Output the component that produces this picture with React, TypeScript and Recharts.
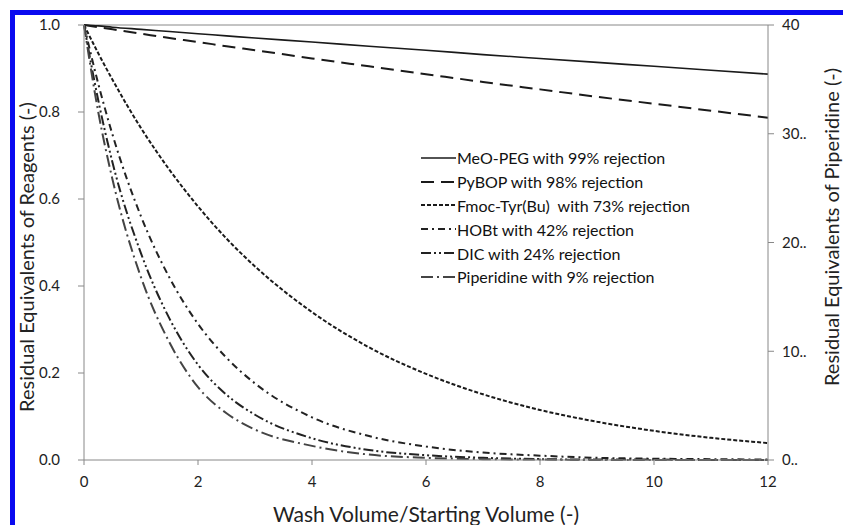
import React from "react";
import { LineChart, Line, XAxis, YAxis, ReferenceLine } from "recharts";

const washVolume = [0, 0.25, 0.5, 1, 1.5, 2, 2.5, 3, 4, 5, 6, 7, 8, 9, 10, 11, 12];

// residual equivalents of reagents (left axis)
const meoPeg = [1, 0.998, 0.995, 0.99, 0.985, 0.98, 0.975, 0.97, 0.961, 0.951, 0.942, 0.932, 0.923, 0.914, 0.905, 0.896, 0.887];
const pybop = [1, 0.995, 0.99, 0.98, 0.97, 0.961, 0.951, 0.942, 0.923, 0.905, 0.887, 0.869, 0.852, 0.835, 0.819, 0.803, 0.787];
const fmocTyr = [1, 0.935, 0.874, 0.763, 0.667, 0.583, 0.509, 0.445, 0.34, 0.259, 0.198, 0.151, 0.115, 0.088, 0.067, 0.051, 0.039];
const hobt = [1, 0.865, 0.748, 0.56, 0.419, 0.313, 0.235, 0.176, 0.098, 0.055, 0.031, 0.017, 0.01, 0.005, 0.003, 0.002, 0.001];
const dic = [1, 0.827, 0.684, 0.475, 0.325, 0.219, 0.15, 0.104, 0.05, 0.023, 0.011, 0.005, 0.002, 0.001, 0.001, 0, 0];
// residual equivalents of piperidine (right axis)
const piperidine = [40, 32, 25.8, 16.8, 10.8, 6.7, 4.3, 2.8, 1.3, 0.5, 0.2, 0.08, 0.04, 0, 0, 0, 0];

const xTicks = [0, 2, 4, 6, 8, 10, 12];
const leftTicks = [0, 0.2, 0.4, 0.6, 0.8, 1.0];
const rightTicks = [0, 10, 20, 30, 40];

const series = [
  { key: "meoPeg", axis: "left", name: "MeO-PEG with 99% rejection", dash: undefined, width: 1.6, color: "#1a1a1a" },
  { key: "pybop", axis: "left", name: "PyBOP with 98% rejection", dash: "13 7", width: 2, color: "#1a1a1a" },
  { key: "fmocTyr", axis: "left", name: "Fmoc-Tyr(Bu)  with 73% rejection", dash: "4 2", width: 2, color: "#1a1a1a" },
  { key: "hobt", axis: "left", name: "HOBt with 42% rejection", dash: "7 4 2 4", width: 2, color: "#222" },
  { key: "dic", axis: "left", name: "DIC with 24% rejection", dash: "10 3 2 3 2 3", width: 2, color: "#222" },
  { key: "piperidine", axis: "right", name: "Piperidine with 9% rejection", dash: "12 4 2 4", width: 2, color: "#444" },
];

const data = washVolume.map((v, i) => ({
  v,
  meoPeg: meoPeg[i],
  pybop: pybop[i],
  fmocTyr: fmocTyr[i],
  hobt: hobt[i],
  dic: dic[i],
  piperidine: piperidine[i],
}));

const font = "Lato, 'Open Sans', sans-serif";
const tickStyle = { fill: "#222", fontSize: 15, fontFamily: font };

function LegendBox() {
  return (
    <div style={{ fontFamily: font, fontSize: 16, color: "#111" }}>
      {series.map((s) => (
        <div key={s.key} style={{ display: "flex", alignItems: "center", height: 23.8, whiteSpace: "pre" }}>
          <svg width={35} height={10} style={{ marginRight: 1 }}>
            <line x1={0} y1={5} x2={35} y2={5} stroke={s.color} strokeWidth={s.width} strokeDasharray={s.dash} />
          </svg>
          <span>{s.name}</span>
        </div>
      ))}
    </div>
  );
}

const titleStyle: React.CSSProperties = {
  position: "absolute",
  whiteSpace: "nowrap",
  fontFamily: font,
  fontSize: 20,
  color: "#222",
};

export default function App() {
  return (
    <div style={{ position: "absolute", left: 0, top: 0, width: 843, height: 525, overflow: "hidden", background: "#fff" }}>
      <div style={{ position: "absolute", left: 10, top: 10, width: 860, height: 560, border: "5px solid #0a0af0", boxSizing: "border-box" }} />
      <div style={{ position: "absolute", left: 0, top: 0 }}>
        <LineChart width={843} height={525} data={data} margin={{ top: 25, right: 0, bottom: 35, left: 0 }}>
          <XAxis
            dataKey="v"
            type="number"
            domain={[0, 12]}
            ticks={xTicks}
            height={30}
            stroke="#888"
            tickSize={5}
            tick={tickStyle}
            tickMargin={11}
          />
          <YAxis
            yAxisId="left"
            domain={[0, 1]}
            ticks={leftTicks}
            width={84}
            stroke="#888"
            tickSize={6}
            tickFormatter={(t: number) => t.toFixed(1)}
            tick={tickStyle}
            tickMargin={18}
          />
          <YAxis
            yAxisId="right"
            orientation="right"
            domain={[0, 40]}
            ticks={rightTicks}
            width={75}
            stroke="#888"
            tickSize={6}
            tickFormatter={(t: number) => (t === 40 ? "40" : `${t}..`)}
            tick={tickStyle}
            tickMargin={8}
          />
          <ReferenceLine yAxisId="left" y={1} stroke="#888" />
          {series.map((s) => (
            <Line
              key={s.key}
              yAxisId={s.axis}
              dataKey={s.key}
              name={s.name}
              type="monotone"
              stroke={s.color}
              strokeWidth={s.width}
              strokeDasharray={s.dash}
              dot={false}
              isAnimationActive={false}
            />
          ))}
        </LineChart>
      </div>
      <div style={{ position: "absolute", left: 421, top: 146 }}>
        <LegendBox />
      </div>
      <div style={{ ...titleStyle, left: 26, top: 257, transform: "translate(-50%, -50%) rotate(-90deg)" }}>
        Residual Equivalents of Reagents (-)
      </div>
      <div style={{ ...titleStyle, left: 831, top: 227, transform: "translate(-50%, -50%) rotate(-90deg)" }}>
        Residual Equivalents of Piperidine (-)
      </div>
      <div style={{ ...titleStyle, fontSize: 21, left: 426, top: 513, transform: "translate(-50%, -50%)" }}>
        Wash Volume/Starting Volume (-)
      </div>
    </div>
  );
}
